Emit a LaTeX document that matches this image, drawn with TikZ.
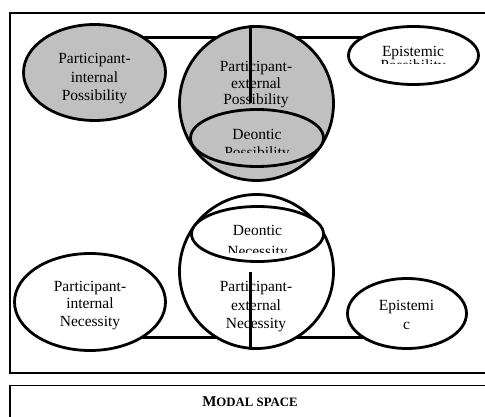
\documentclass[tikz,border=0pt]{standalone}
\usepackage{fontspec}
\setmainfont{Liberation Serif}
\usetikzlibrary{shapes.geometric}
\definecolor{gr}{HTML}{C0C0C0}
\begin{document}
\begin{tikzpicture}[x=1pt,y=-1pt,
  blob/.style={draw, line width=2.8pt, inner sep=0pt},
  ell/.style={blob, ellipse},
  circ/.style={blob, circle},
  conn/.style={line width=2.8pt},
  frame/.style={line width=1.7pt},
  lbl/.style={anchor=base, inner sep=0pt, font=\fontsize{15.5}{17}\selectfont}]
\useasboundingbox (0,0) rectangle (485,417);
\clip (0,0) rectangle (485,417);
% frames
\draw[frame] (10,13) rectangle (500,373);
\draw[frame] (10,385.5) rectangle (500,440);
% helper coordinates
\coordinate (ytop) at (0,37.3);
\coordinate (ybot) at (0,337.5);
\coordinate (xv) at (250.5,0);
% top connectors (hidden inside filled shapes)
\draw[conn] (94.5,0 |- ytop) coordinate (c1) -- (413.5,0 |- ytop) coordinate (c2);
\draw[conn] (90,0 |- ybot) coordinate (c3) -- (407,0 |- ybot) coordinate (c4);
% top row
\node[ell, fill=gr, minimum width=142pt, minimum height=96pt] (pip) at (94.5,72.5) {};
\node[circ, fill=gr, minimum size=154pt] (pep) at (256.5,103.5) {};
\draw[conn] (pep.north -| xv) -- (pep.center -| xv);
\node[ell, fill=gr, minimum width=133pt, minimum height=57pt] (dp) at (257,138) {};
\node[ell, fill=white, minimum width=130pt, minimum height=58pt] (ep) at (413.5,55.5) {};
% bottom row
\node[ell, fill=white, minimum width=151pt, minimum height=97pt] (pin) at (90,302) {};
\node[circ, fill=white, minimum size=154pt] (pen) at (256.5,271.5) {};
\draw[conn] (pen.center -| xv) -- (pen.south -| xv);
\node[ell, fill=white, minimum width=132pt, minimum height=55pt] (dn) at (257.5,234) {};
\node[ell, fill=white, minimum width=119pt, minimum height=70pt] (en) at (407,313.5) {};
% texts top
\node[lbl] (t1) at (94.5,64) {Participant-};
\node[lbl] (t2) at (94.5,82.5) {internal};
\node[lbl] (t3) at (94.5,101) {Possibility};
\node[lbl] (t4) at (256,71.7) {Participant-};
\node[lbl] (t5) at (256,88.3) {external};
\node[lbl] (t6) at (256,105) {Possibility};
\node[lbl] (t7) at (257,140) {Deontic};
\begin{scope}
\clip (190,100) rectangle (325,153);
\node[lbl] (t8) at (257,158) {Possibility};
\end{scope}
\node[lbl] (t9) at (413,57) {Epistemic};
\begin{scope}
\clip (350,40) rectangle (478,63.5);
\node[lbl] (t10) at (413,70.5) {Possibility};
\end{scope}
% texts bottom
\node[lbl] (t11) at (90,291.7) {Participant-};
\node[lbl] (t12) at (90,308.5) {internal};
\node[lbl] (t13) at (90,326) {Necessity};
\node[lbl] (t14) at (256,291.7) {Participant-};
\node[lbl] (t15) at (256,310) {external};
\node[lbl] (t16) at (256,328.5) {Necessity};
\node[lbl] (t17) at (257.5,235.5) {Deontic};
\begin{scope}
\clip (190,200) rectangle (325,252);
\node[lbl] (t18) at (257.5,256) {Necessity};
\end{scope}
\node[lbl] (t19) at (406.5,310) {Epistemi};
\node[lbl] (t20) at (406.5,329) {c};
% title
\node[anchor=base, inner sep=0pt, font=\fontsize{15}{17}\selectfont\bfseries] (title) at (250,406.7) {M{\fontsize{12.8}{15}\selectfont ODAL SPACE}};
\end{tikzpicture}
\end{document}
